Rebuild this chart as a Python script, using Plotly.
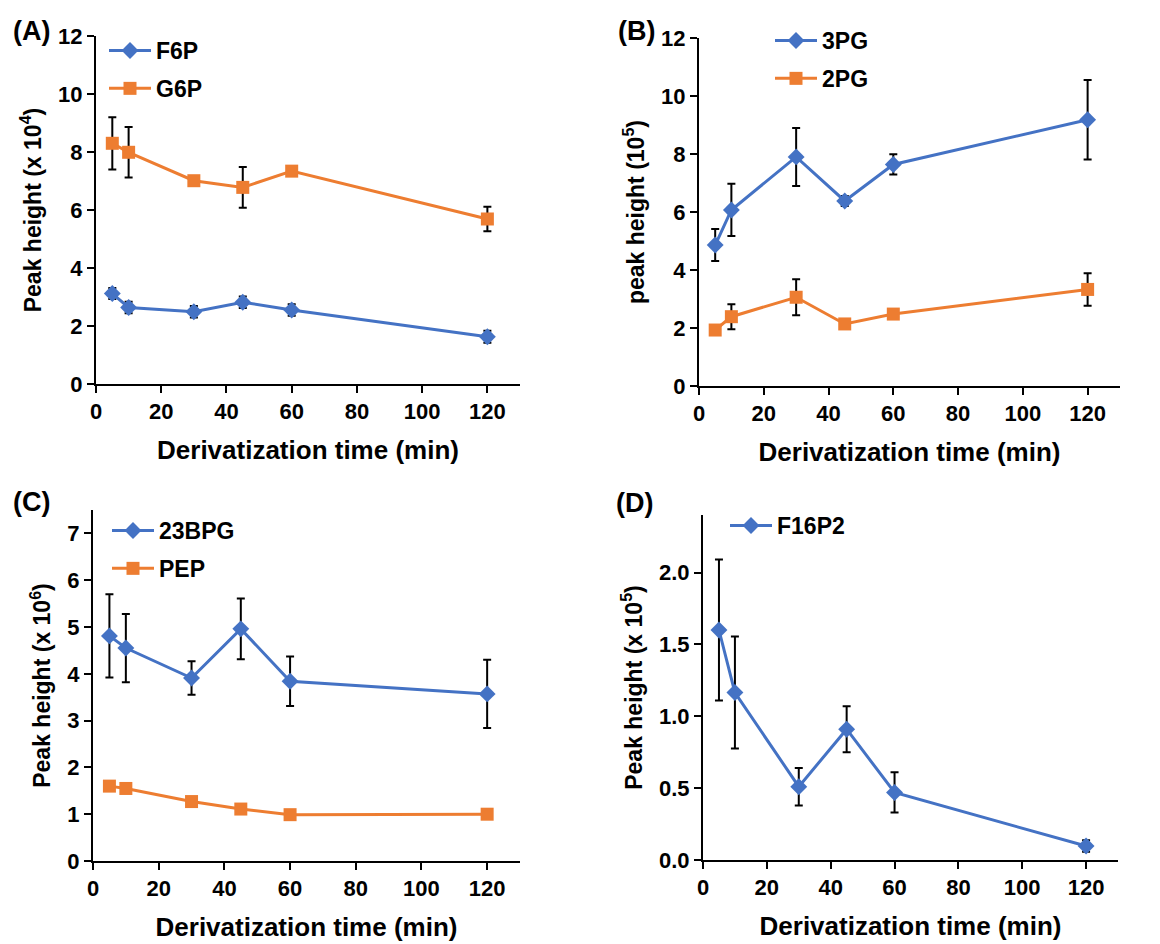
import plotly.graph_objects as go
from plotly.subplots import make_subplots

# Derivatization time points (min)
time_min = [5, 10, 30, 45, 60, 120]

# Panel A: hexose phosphates, peak height (x 10^4)
f6p = [3.12, 2.64, 2.49, 2.82, 2.55, 1.63]
f6p_err = [0.19, 0.20, 0.20, 0.20, 0.20, 0.21]
g6p = [8.30, 7.99, 7.01, 6.78, 7.34, 5.69]
g6p_err = [0.90, 0.87, 0.15, 0.70, 0.10, 0.42]

# Panel B: phosphoglycerates, peak height (10^5)
pg3 = [4.86, 6.07, 7.90, 6.38, 7.64, 9.18]
pg3_err = [0.55, 0.90, 1.00, 0.17, 0.35, 1.37]
pg2 = [1.93, 2.39, 3.06, 2.14, 2.48, 3.33]
pg2_err = [0.08, 0.43, 0.62, 0.10, 0.10, 0.56]

# Panel C: 23BPG and PEP, peak height (x 10^6)
bpg23 = [4.81, 4.55, 3.91, 4.96, 3.84, 3.57]
bpg23_err = [0.89, 0.73, 0.36, 0.65, 0.53, 0.73]
pep = [1.60, 1.55, 1.27, 1.11, 0.99, 1.00]
pep_err = [0.05, 0.05, 0.05, 0.05, 0.04, 0.04]

# Panel D: F16P2, peak height (x 10^5)
f16p2 = [1.60, 1.165, 0.51, 0.91, 0.47, 0.097]
f16p2_err = [0.49, 0.39, 0.13, 0.16, 0.14, 0.04]

x_ticks = [0, 20, 40, 60, 80, 100, 120]
x_title = "Derivatization time (min)"

BLUE = "#4472C4"
ORANGE = "#ED7D31"
FONT = "Liberation Sans"
W, H = 1160, 944

fig = make_subplots(rows=2, cols=2)


def add_series(row, col, y, err, name, color, symbol, size, legend):
    fig.add_trace(
        go.Scatter(
            x=time_min, y=y, name=name, mode="lines+markers",
            line=dict(color=color, width=3),
            marker=dict(color=color, symbol=symbol, size=size),
            error_y=dict(type="data", array=err, visible=True,
                         color="black", thickness=2, width=4),
            legend=legend, legendgroup=name,
        ),
        row=row, col=col,
    )


add_series(1, 1, f6p, f6p_err, "F6P", BLUE, "diamond", 13, "legend")
add_series(1, 1, g6p, g6p_err, "G6P", ORANGE, "square", 13, "legend")
add_series(1, 2, pg3, pg3_err, "3PG", BLUE, "diamond", 13, "legend2")
add_series(1, 2, pg2, pg2_err, "2PG", ORANGE, "square", 13, "legend2")
add_series(2, 1, bpg23, bpg23_err, "23BPG", BLUE, "diamond", 13, "legend3")
add_series(2, 1, pep, pep_err, "PEP", ORANGE, "square", 13, "legend3")
add_series(2, 2, f16p2, f16p2_err, "F16P2", BLUE, "diamond", 13, "legend4")


def px_x(a, b):
    return [a / W, b / W]


def px_y(top, bottom):
    return [1 - bottom / H, 1 - top / H]


# plot areas (pixel boxes)
domains = {
    (1, 1): (px_x(96, 520), px_y(36, 384)),
    (1, 2): (px_x(699, 1120), px_y(38, 386)),
    (2, 1): (px_x(93, 520), px_y(510, 861)),
    (2, 2): (px_x(703, 1118), px_y(515, 860)),
}
y_ranges = {(1, 1): [0, 12], (1, 2): [0, 12], (2, 1): [0, 7.5], (2, 2): [0, 2.4]}
y_dticks = {(1, 1): 2, (1, 2): 2, (2, 1): 1, (2, 2): 0.5}
y_titles = {
    (1, 1): "Peak height (x 10<sup>4</sup>)",
    (1, 2): "peak height (10<sup>5</sup>)",
    (2, 1): "Peak height (x 10<sup>6</sup>)",
    (2, 2): "Peak height (x 10<sup>5</sup>)",
}

axis_common = dict(
    showline=True, linecolor="black", linewidth=2, ticks="outside",
    ticklen=7, tickwidth=2, tickcolor="black", showgrid=False, zeroline=False,
    automargin=False,
    tickfont=dict(family=FONT, size=22, color="black", weight="bold"),
)

for (r, c), (dx, dy) in domains.items():
    fig.update_xaxes(
        domain=dx, range=[0, 130], tickvals=x_ticks,
        title=dict(text=x_title, standoff=17,
                   font=dict(family=FONT, size=26, color="black", weight="bold")),
        row=r, col=c, **axis_common,
    )
    fig.update_yaxes(
        domain=dy, range=y_ranges[(r, c)], dtick=y_dticks[(r, c)], tick0=0,
        tickformat=".1f" if (r, c) == (2, 2) else "d",
        title=dict(text=y_titles[(r, c)], standoff=10,
                   font=dict(family=FONT, size=23, color="black", weight="bold")),
        row=r, col=c, **axis_common,
    )

legend_style = dict(
    font=dict(family=FONT, size=23, color="black", weight="bold"),
    bgcolor="rgba(0,0,0,0)", borderwidth=0, xanchor="left", yanchor="top",
    tracegroupgap=5, itemwidth=42,
)

fig.update_layout(
    width=W, height=H,
    margin=dict(l=0, r=0, t=0, b=0),
    paper_bgcolor="white", plot_bgcolor="white",
    font=dict(family=FONT, color="black"),
    legend=dict(x=104 / W, y=1 - 29 / H, **legend_style),
    legend2=dict(x=770 / W, y=1 - 19 / H, **legend_style),
    legend3=dict(x=107 / W, y=1 - 509 / H, **legend_style),
    legend4=dict(x=725 / W, y=1 - 504 / H, **legend_style),
)

# panel letters
for label, xp, yp in [("(A)", 11, 31), ("(B)", 616, 31), ("(C)", 11, 502), ("(D)", 614, 503)]:
    fig.add_annotation(
        text=label, x=xp / W, y=1 - yp / H, xref="paper", yref="paper",
        xanchor="left", yanchor="middle", showarrow=False,
        font=dict(family=FONT, size=27, color="black", weight="bold"),
    )

fig.write_html("out.html")
